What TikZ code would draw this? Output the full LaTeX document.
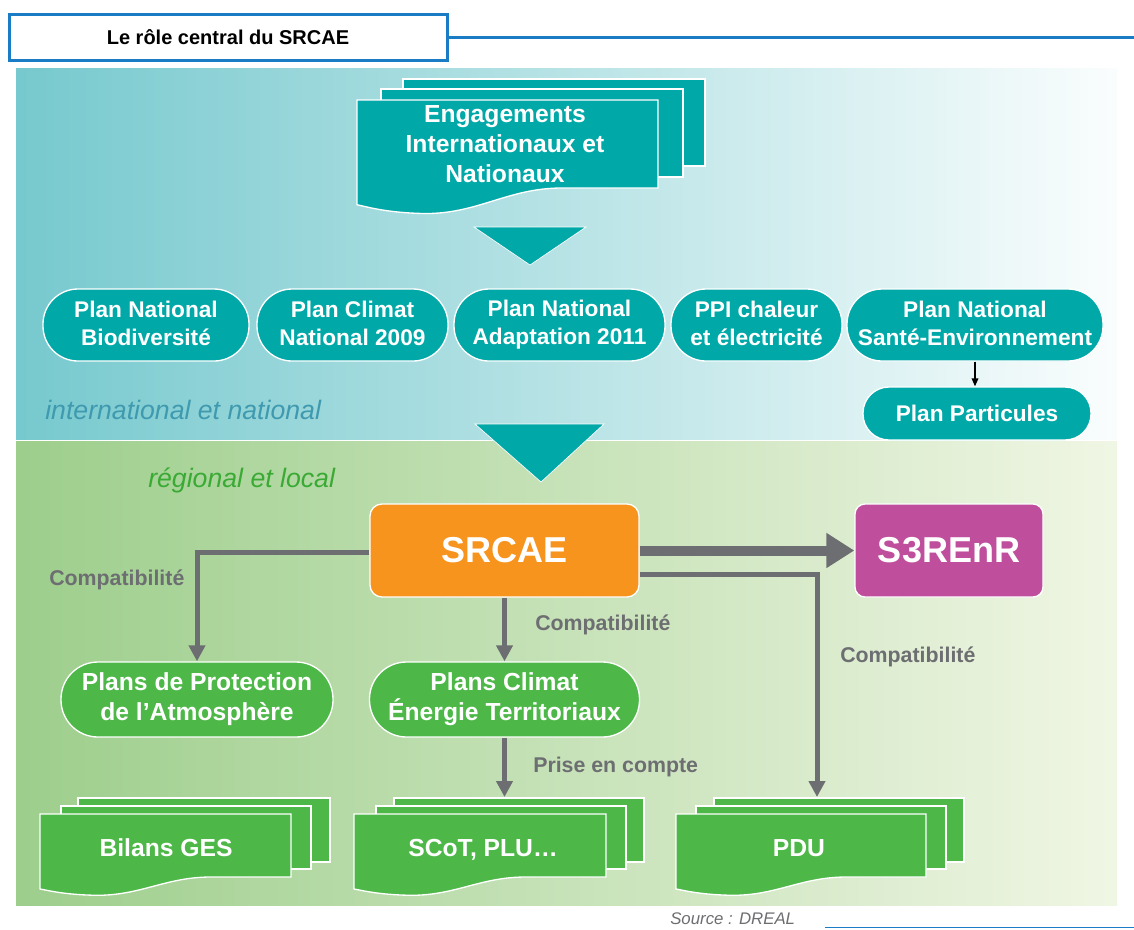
\documentclass[tikz,border=0pt]{standalone}
\usepackage{fontspec}
\setmainfont{Liberation Sans}
\usetikzlibrary{arrows.meta,calc}
\definecolor{teal1}{HTML}{00A9A8}
\definecolor{green1}{HTML}{4DB848}
\definecolor{orange1}{HTML}{F7941D}
\definecolor{magenta1}{HTML}{BF4F9C}
\definecolor{gray1}{HTML}{6D6E71}
\definecolor{blue1}{HTML}{1A7CC4}
\definecolor{italteal}{HTML}{3F9AB0}
\definecolor{italgreen}{HTML}{3AAA35}
\definecolor{bandtl}{HTML}{76C9CE}
\definecolor{bandtr}{HTML}{FAFDFD}
\definecolor{bandbl}{HTML}{9DCE8C}
\definecolor{bandbr}{HTML}{F0F6E4}
\newcommand\mystrut{\rule[-3pt]{0pt}{21pt}}
\newcommand\docpage[5]{%
  \pgfmathsetmacro\dw{#4-#2}\pgfmathsetmacro\dh{#5-#3}%
  \filldraw[fill=#1,draw=white,line width=1pt] (#2,#3) -- (#4,#3) -- (#4,#5) -- ({#2+0.68*\dw},#5)
    .. controls ({#2+0.5*\dw},#5) and ({#2+0.4*\dw},{#5+0.3*\dh}) .. ({#2+0.22*\dw},{#5+0.29*\dh})
    .. controls ({#2+0.1*\dw},{#5+0.28*\dh}) and ({#2+0.04*\dw},{#5+0.22*\dh}) .. (#2,{#5+0.19*\dh}) -- cycle;}
\newcommand\backpage[5]{%
  \filldraw[fill=#1,draw=white,line width=1pt] (#2,#3) rectangle (#4,#5);}
\begin{document}
\begin{tikzpicture}[x=0.75pt,y=-0.75pt,
  struts/.style={execute at begin node=\mystrut,execute at end node=\mystrut},
  topoval/.style={struts,fill=teal1,draw=white,line width=1pt,text=white,font=\fontsize{17}{21}\selectfont\bfseries,align=center,minimum height={72*0.75pt},rounded corners={35*0.75pt},inner sep=0pt},
  greenoval/.style={struts,fill=green1,draw=white,line width=1pt,text=white,font=\fontsize{18.5}{22.5}\selectfont\bfseries,align=center,minimum height={75*0.75pt},rounded corners={37*0.75pt},inner sep=0pt},
  bigbox/.style={draw=white,line width=1pt,text=white,font=\fontsize{27}{32}\selectfont\bfseries,minimum height={93*0.75pt},rounded corners={12*0.75pt},inner sep=0pt},
  doctext/.style={struts,text=white,font=\fontsize{18.5}{22.5}\selectfont\bfseries,align=center},
  lbl/.style={text=gray1,font=\fontsize{16}{19}\selectfont\bfseries,anchor=west,inner sep=0pt},
  conn/.style={draw=gray1,line width=3.75pt,-{Triangle[length=12pt,width=12pt]}},
  thick/.style={draw=gray1,line width=7.5pt,-{Triangle[length=21pt,width=25pt]}},
  ital/.style={font=\fontsize{20}{24}\selectfont\itshape,anchor=west,inner sep=0pt}]
\useasboundingbox (0,0) rectangle (1134,929);
\fill[white] (0,0) rectangle (1134,929);
% bands
\shade[left color=bandtl,right color=bandtr] (16,68) rectangle (1117,439);
\shade[left color=bandbl,right color=bandbr] (16,441) rectangle (1117,905);
% title
\draw[blue1,line width=2.25pt] (447,37) -- (1134,37);
\node[draw=blue1,line width=2.25pt,fill=white,minimum width={438*0.75pt},minimum height={46*0.75pt},inner sep=0pt,font=\fontsize{15}{18}\selectfont\bfseries] (title) at (228,37) {Le rôle central du SRCAE};
% engagements stack
\backpage{teal1}{403}{79}{705}{166}
\backpage{teal1}{381}{89}{683}{177}
\docpage{teal1}{357}{100}{658}{188}
\node[doctext] (eng) at (505,146) {Engagements\\Internationaux et\\Nationaux};
% triangle 1
\filldraw[fill=teal1,draw=white,line width=0.5pt] (474,227) -- (586,227) -- (530,265) -- cycle;
% top ovals
\node[topoval,minimum width={206*0.75pt}] (pn1) at (146,325) {Plan National\\Biodiversité};
\node[topoval,minimum width={191*0.75pt}] (pn2) at (352.5,325) {Plan Climat\\National 2009};
\node[topoval,minimum width={211*0.75pt}] (pn3) at (559.5,325) {Plan National\\Adaptation 2011};
\node[topoval,minimum width={171*0.75pt}] (pn4) at (756.5,325) {PPI chaleur\\et électricité};
\node[topoval,minimum width={256*0.75pt}] (pn5) at (975,325) {Plan National\\Santé-Environnement};
\node[topoval,execute at begin node=\strut,execute at end node=\strut,minimum width={228*0.75pt},minimum height={53*0.75pt},rounded corners={26*0.75pt}] (pp) at (977,413.5) {Plan Particules};
\draw[black,line width=1pt,-{Triangle[length=6pt,width=5pt]}] (pn5.south) -- (pn5.south |- pp.north);
\node[ital,text=italteal] (intl) at (45,410) {international et national};
% triangle 2
\filldraw[fill=teal1,draw=white,line width=0.5pt] (475,424) -- (604,424) -- (541,482) -- cycle;
\node[ital,text=italgreen] (reg) at (148,480) {régional et local};
% SRCAE and S3REnR
\node[bigbox,fill=orange1,minimum width={269*0.75pt}] (srcae) at (504.5,550.5) {SRCAE};
\node[bigbox,fill=magenta1,minimum width={188*0.75pt},rounded corners={10*0.75pt}] (s3) at (949,550.5) {S3REnR};
\draw[thick] (srcae.east) -- (s3.west);
% green ovals
\node[greenoval,minimum width={272*0.75pt}] (ppa) at (197,699.5) {Plans de Protection\\de l’Atmosphère};
\node[greenoval,minimum width={270*0.75pt}] (pcet) at (504.5,699.5) {Plans Climat\\Énergie Territoriaux};
% bottom docs
\backpage{green1}{78}{798}{330}{862}
\backpage{green1}{61}{806}{311}{869}
\docpage{green1}{40}{814}{291}{877}
\node[doctext] (bges) at (166,846) {Bilans GES};
\backpage{green1}{394}{798}{644}{862}
\backpage{green1}{376}{806}{626}{869}
\docpage{green1}{354}{814}{606}{877}
\node[doctext] (scot) at (483,846) {SCoT, PLU…};
\backpage{green1}{714}{798}{964}{862}
\backpage{green1}{696}{806}{946}{869}
\docpage{green1}{676}{814}{926}{877}
\node[doctext] (pdu) at (799,846) {PDU};
\coordinate (scottop) at (504.5,797);
\coordinate (pdutop) at (817,797);
% connectors
\draw[conn] ($(srcae.west)+(0,1.5)$) -| (ppa.north);
\draw[conn] (srcae.south) -- (pcet.north);
\draw[conn] ($(srcae.east)+(0,23.5)$) -| (pdutop);
\draw[conn] (pcet.south) -- (scottop);
% labels
\node[lbl] (c1) at (49,580) {Compatibilité};
\node[lbl] (c2) at (535,625) {Compatibilité};
\node[lbl] (c3) at (840,657) {Compatibilité};
\node[lbl] (pec) at (533,767) {Prise en compte};
% source
\node[anchor=west,inner sep=0pt,text=gray1,font=\fontsize{12.6}{15}\selectfont\itshape] (src) at (670,919) {Source : DREAL};
\draw[blue1,line width=1pt] (825,927.5) -- (1134,927.5);
\end{tikzpicture}
\end{document}
